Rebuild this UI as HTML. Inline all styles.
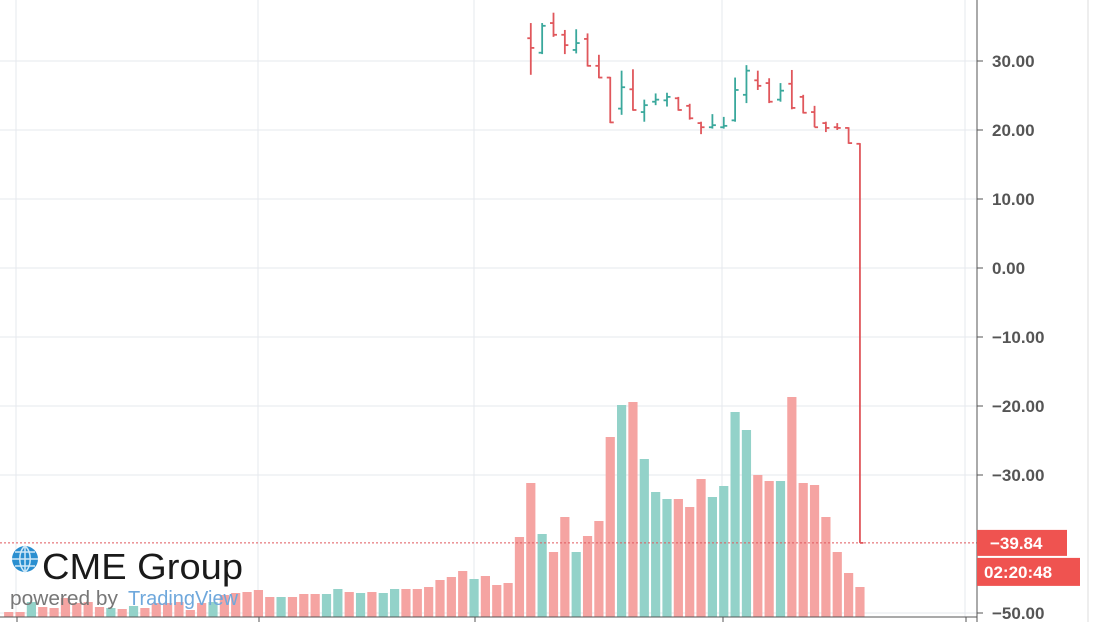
<!DOCTYPE html>
<html><head><meta charset="utf-8"><style>
html,body{margin:0;padding:0;background:#fff;width:1104px;height:622px;overflow:hidden}
svg{display:block}
text{font-family:"Liberation Sans",sans-serif}
</style></head><body>
<svg id="chart" width="1104" height="622" viewBox="0 0 1104 622" xmlns="http://www.w3.org/2000/svg">
<g id="grid"></g>
<g id="vol"></g>
<g id="ohlc"></g>
<g id="axis"></g>
<g>
  <circle cx="25" cy="559" r="13" fill="#2a8fd0"/>
  <path d="M12 559h26M25 546v26M15 552h20M15 566h20M25 546c-7 5-7 21 0 26M25 546c7 5 7 21 0 26" stroke="#cfe8f7" stroke-width="1.5" fill="none"/>
  <text x="42" y="579" font-size="36" textLength="201" lengthAdjust="spacingAndGlyphs" fill="#1a1a1a">CME Group</text>
  <text x="10" y="605" font-size="20" textLength="108" lengthAdjust="spacingAndGlyphs" fill="#777">powered by</text>
  <text x="128" y="605" font-size="20" textLength="110" lengthAdjust="spacingAndGlyphs" fill="#6fa8dc">TradingView</text>
</g>
</svg>
<script>
const volHeights=[5,5,15,10,9,19,14,15,10,9,8,11,9,14,14,15,7,14,15,22,24,25,27,20,20,20,23,23,23,28,25,24,25,24,28,28,28,30,37,40,46,38,41,32,34,80,134,83,65,100,65,81,96,180,212,215,158,125,118,118,110,138,120,131,205,187,142,136,136,220,134,132,100,65,44,30];
const volUp=[0,0,1,0,0,0,0,0,0,1,0,1,0,0,0,0,0,0,1,0,0,0,0,0,1,0,0,0,1,1,0,1,0,1,1,0,0,0,0,0,0,1,0,0,0,0];
const ohlcOpen=[33.3,31.2,35.5,33.8,31.6,33.2,29.3,27.6,23.1,25.9,22.6,24.1,24.3,24.6,23.5,21,20.4,20.4,21.4,25.1,27.2,26.8,24.4,26.7,24.8,22.6,21,20.4,20.3,18];
const ohlcHigh=[35.5,35.5,37,34.5,34.6,34,30.9,27.7,28.6,28.8,24.4,25.3,25.4,24.8,23.8,21.2,22.3,21.9,27.6,29.4,28.6,27.5,26.8,28.7,25.1,23.5,21.2,21,20.4,18.1];
const ohlcLow=[28,31,33.5,31,31.1,29.2,27.5,21,22.2,22.8,21.2,23.6,23.4,22.8,21.5,19.4,20.2,20.2,21.2,23.9,25.8,23.9,24.1,23,22.4,20.4,19.7,20,18,-39.84];
const ohlcClose=[31.9,35.1,33.8,32.3,32.6,29.3,27.6,21.1,26.2,22.9,23.6,24.4,24.8,22.9,21.7,20.4,20.7,20.6,25.8,28.6,26.4,24.1,25.7,23.2,22.5,20.4,20.3,20.3,18.1,-39.84];
const priceTicks=[40,30,20,10,0,-10,-20,-30,-50];
const tickLabels=["40.00","30.00","20.00","10.00","0.00","\u221210.00","\u221220.00","\u221230.00","\u221250.00"];
const lastPrice=-39.84;
const lastLabel="\u221239.84";
const timerLabel="02:20:48";
const ohlcStart=46;

const NS="http://www.w3.org/2000/svg";
const yP=v=>268-6.9*v;
const xI=i=>8.7+i*11.35;
const volBase=617;
const yV=h=>volBase-h;
function mk(tag,attrs,parent){const e=document.createElementNS(NS,tag);for(const k in attrs)e.setAttribute(k,attrs[k]);parent.appendChild(e);return e;}
const grid=document.getElementById('grid'),vol=document.getElementById('vol'),ohlc=document.getElementById('ohlc'),axis=document.getElementById('axis');

priceTicks.forEach((v,k)=>{
  const l=mk('line',{x1:0,x2:977,y1:yP(v),y2:yP(v),stroke:'#e6e9ee','stroke-width':1},grid);
  
  
  const t=mk('line',{x1:977,x2:983,y1:yP(v),y2:yP(v),stroke:'#555','stroke-width':1},axis);
  
  
  const tx=mk('text',{x:992,y:yP(v)+6,'font-size':17,fill:'#555','font-weight':'bold'},axis);
  tx.textContent=tickLabels[k];
  
  
});
[16,258,474,722,965].forEach(x=>{
  const l=mk('line',{x1:x,x2:x,y1:0,y2:617,stroke:'#e6e9ee','stroke-width':1},grid);
  
  
  const t=mk('line',{x1:x+1,x2:x+1,y1:617,y2:622,stroke:'#555','stroke-width':1},axis);
  
  
});

volHeights.forEach((h,i)=>{
  let up;
  if(i>=ohlcStart){const j=i-ohlcStart;up=ohlcClose[j]>=ohlcOpen[j];}else up=volUp[i]===1;
  const r=mk('rect',{x:xI(i)-4.6,y:yV(h),width:9.2,height:h,fill:up?'#93d2c9':'#f5a4a2'},vol);
  
  
});

ohlcOpen.forEach((o,j)=>{
  const x=xI(j+ohlcStart);const up=ohlcClose[j]>=ohlcOpen[j];
  const c=up?'#3aa89c':'#e0575c';
  const g=mk('g',{stroke:c,'stroke-width':1.8,fill:'none'},ohlc);
  
  
  mk('line',{x1:x,x2:x,y1:yP(ohlcHigh[j]),y2:yP(ohlcLow[j])},g);
  mk('line',{x1:x-3.5,x2:x,y1:yP(o),y2:yP(o)},g);
  mk('line',{x1:x,x2:x+3.5,y1:yP(ohlcClose[j]),y2:yP(ohlcClose[j])},g);
});

const pl=mk('line',{x1:0,x2:977,y1:yP(lastPrice),y2:yP(lastPrice),stroke:'#e0575c','stroke-width':1,'stroke-dasharray':'2,2'},axis);


mk('line',{x1:977,x2:977,y1:0,y2:622,stroke:'#555','stroke-width':1},axis);
mk('line',{x1:0,x2:977,y1:617,y2:617,stroke:'#555','stroke-width':1},axis);
mk('line',{x1:1088,x2:1088,y1:0,y2:622,stroke:'#ddd','stroke-width':1},axis);
const lb=mk('rect',{x:977,y:yP(lastPrice)-13,width:90,height:26,fill:'#ef5350'},axis);


const lt=mk('text',{x:990,y:yP(lastPrice)+6,'font-size':17,fill:'#fff','font-weight':'bold'},axis);lt.textContent=lastLabel;


const tb=mk('rect',{x:977,y:yP(lastPrice)+15,width:103,height:28,fill:'#ef5350'},axis);


const tt=mk('text',{x:984,y:yP(lastPrice)+35,'font-size':17,fill:'#fff','font-weight':'bold'},axis);tt.textContent=timerLabel;


</script>
</body></html>
